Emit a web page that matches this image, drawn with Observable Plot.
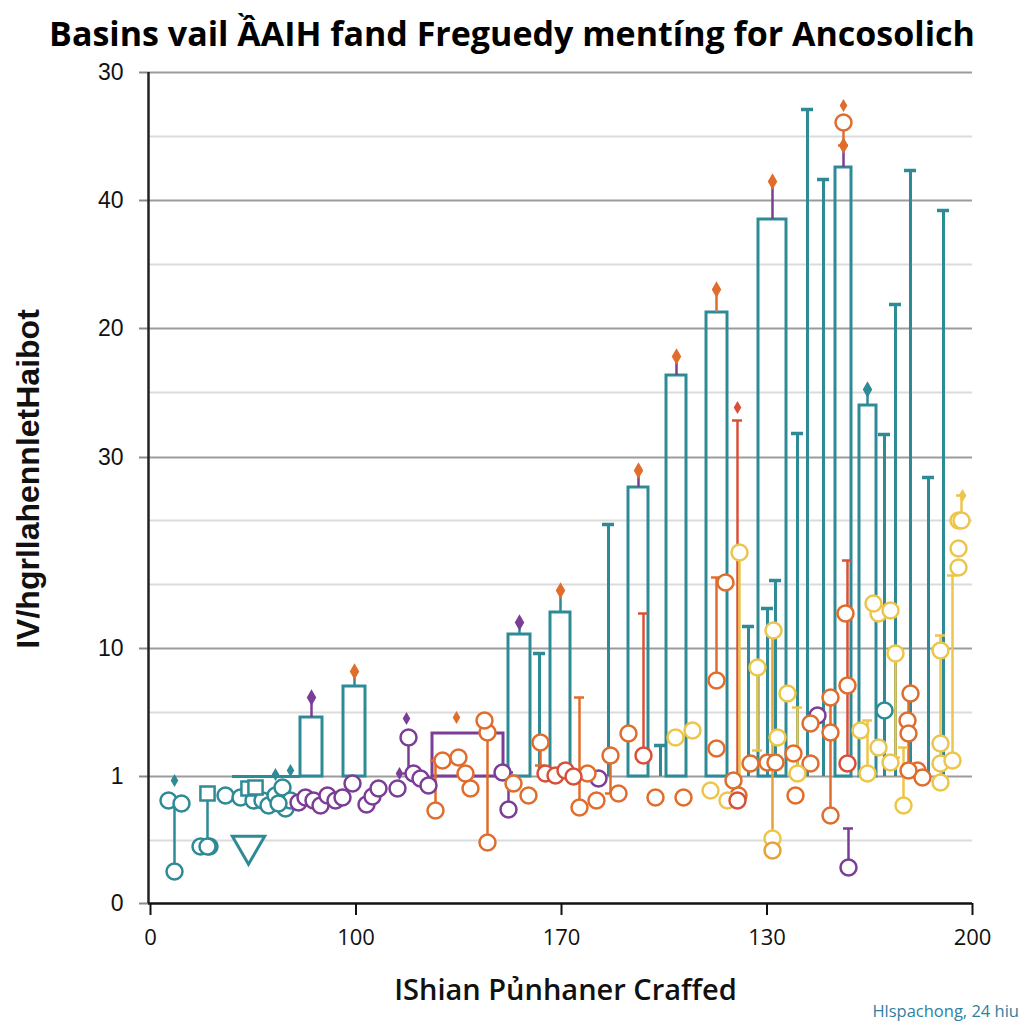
<!DOCTYPE html>
<html><head><meta charset="utf-8">
<script src="https://cdn.jsdelivr.net/npm/d3@7"></script>
<script src="https://cdn.jsdelivr.net/npm/@observablehq/plot@0.6"></script>
<style>
body{margin:0;background:#fff;width:1024px;height:1024px;overflow:hidden;font-family:"Open Sans",sans-serif}
#title{height:58px;box-sizing:border-box;padding-top:8px;line-height:50px;text-align:center;font-weight:700;font-size:34px;color:#000;white-space:nowrap}
#cap{height:26px;line-height:26px;text-align:right;padding-right:5px;font-size:16.5px;color:#2f7fa0}
</style></head><body>
<div id="title">Basins vail ẦAIH fand Freguedy mentíng for Ancosolich</div>
<div id="chart"></div>
<div id="cap">Hlspachong, 24 hiu</div>
<script>
const titleText = "Basins vail ẦAIH fand Freguedy mentíng for Ancosolich";
const yLabel = "IV/hgrllahennletHaibot";
const xLabel = "IShian Pủnhaner Craffed";
const caption = "Hlspachong, 24 hiu";

const xTickPos = [0, 20.55, 41.1, 61.65, 82.2];
const xTickLabels = ["0", "100", "170", "130", "200"];
const yTickPos = [-0.3, 12.4, 25.2, 44.3, 57.2, 70.0, 82.8];
const yTickLabels = ["0", "1", "10", "30", "20", "40", "30"];
const yMinor = [6.0, 18.8, 31.6, 38.0, 50.8, 63.6, 76.4];
const BASE = 12.4;

const col = {T: "#2e8b96", P: "#7a3e96", O: "#e06d2c", R: "#d8503a", Y: "#ecc64c", G: "#e3a23a"};

const tealBars = [
  {x1: 15.0, x2: 17.2, top: 18.3}, {x1: 19.3, x2: 21.5, top: 21.4},
  {x1: 35.8, x2: 38.0, top: 26.6}, {x1: 40.0, x2: 42.0, top: 28.8},
  {x1: 47.8, x2: 49.8, top: 41.3}, {x1: 51.6, x2: 53.6, top: 52.5},
  {x1: 55.6, x2: 57.7, top: 58.8}, {x1: 60.8, x2: 63.6, top: 68.1},
  {x1: 68.5, x2: 70.1, top: 73.3}, {x1: 70.9, x2: 72.6, top: 49.5}
];
const purpleBars = [{x1: 28.2, x2: 35.3, top: 16.7}];
const tealSteps = [{x1: 8.2, x2: 15.0, y: 12.4}];

const barTips = [
  {x: 16.1, from: 18.3, to: 20.3, stem: "P", dot: "P"},
  {x: 20.4, from: 21.4, to: 22.9, stem: "T", dot: "O"},
  {x: 36.9, from: 26.6, to: 27.8, stem: "T", dot: "P"},
  {x: 41.0, from: 28.8, to: 31.0, stem: "T", dot: "O"},
  {x: 48.8, from: 41.3, to: 43.0, stem: "P", dot: "O"},
  {x: 52.6, from: 52.5, to: 54.4, stem: "P", dot: "O"},
  {x: 56.6, from: 58.8, to: 61.1, stem: "O", dot: "O"},
  {x: 62.2, from: 68.1, to: 71.9, stem: "P", dot: "O"},
  {x: 69.3, from: 73.3, to: 75.5, stem: "P", dot: "O"},
  {x: 71.7, from: 49.5, to: 51.1, stem: "T", dot: "T"}
];

const tealRules = [
  {x: 45.8, top: 37.6}, {x: 38.9, top: 24.7}, {x: 64.7, top: 46.7}, {x: 65.7, top: 79.1},
  {x: 67.3, top: 72.1}, {x: 73.4, top: 46.6}, {x: 74.5, top: 59.6}, {x: 76.0, top: 73.0},
  {x: 77.8, top: 42.3}, {x: 79.3, top: 69.0}, {x: 59.8, top: 27.4}, {x: 61.7, top: 29.2},
  {x: 62.5, top: 32.0}, {x: 51.0, top: 15.5}
];

const lollipops = [
  {x: 2.4, y: 2.9, top: 10.0, c: "T"}, {x: 5.7, y: 5.4, top: 10.7, c: "T"},
  {x: 25.8, y: 16.3, top: 12.7, c: "P"}, {x: 35.8, y: 9.1, top: 12.8, c: "P"},
  {x: 69.8, y: 3.3, top: 7.2, c: "P"},
  {x: 28.5, y: 9.0, top: 14.0, c: "O"}, {x: 33.7, y: 5.8, top: 16.8, c: "O"},
  {x: 39.0, y: 15.8, top: 13.5, c: "O"}, {x: 42.9, y: 9.3, top: 20.3, c: "O"},
  {x: 46.0, y: 14.5, top: 10.7, c: "O"}, {x: 49.3, y: 14.5, top: 28.7, c: "R"},
  {x: 56.6, y: 22.0, top: 32.3, c: "O"}, {x: 58.7, y: 10.0, top: 48.0, c: "R"},
  {x: 68.0, y: 8.5, top: 20.3, c: "O"}, {x: 69.7, y: 13.7, top: 34.0, c: "R"},
  {x: 75.8, y: 13.0, top: 20.7, c: "O"}, {x: 69.3, y: 77.8, top: 75.5, c: "O"},
  {x: 58.9, y: 34.8, top: 11.0, c: "Y"}, {x: 60.7, y: 23.3, top: 15.0, c: "Y"},
  {x: 62.2, y: 5.0, top: 27.0, c: "G"}, {x: 64.7, y: 12.7, top: 19.3, c: "Y"},
  {x: 71.7, y: 12.7, top: 18.0, c: "Y"}, {x: 74.5, y: 24.7, top: 14.3, c: "Y"},
  {x: 75.3, y: 9.5, top: 15.3, c: "Y"}, {x: 79.0, y: 11.8, top: 26.5, c: "Y"},
  {x: 80.2, y: 14.0, top: 32.5, c: "Y"}, {x: 81.1, y: 38.0, top: 40.5, c: "Y"}
];

const circleX = [1.8,3.1,5.0,5.9,7.5,9.0,10.3,11.2,11.8,12.5,13.2,13.5,14.0,12.8,
  14.8,15.5,16.3,17.0,17.7,18.5,19.2,20.2,21.6,22.2,22.8,24.7,26.3,27.0,27.8,35.2,44.8,66.7,
  29.2,30.8,31.5,32.0,33.7,33.4,37.8,36.3,43.7,44.6,46.8,47.8,50.5,53.3,56.6,57.5,58.3,58.8,60.0,61.7,62.5,64.5,64.3,66.0,66.0,68.0,68.0,69.7,69.5,76.0,75.7,75.8,76.7,77.2,
  39.5,40.5,41.5,42.3,
  52.5,54.2,56.0,57.7,62.3,62.7,63.7,72.8,74.0,72.8,72.3,74.0,79.0,79.0,79.0,80.8,80.8,80.8,62.2,71.0,73.4,81.3,
  77.7];
const circleY = [10.0,9.7,5.4,5.4,10.5,10.3,10.0,10.0,9.5,10.5,11.3,9.2,10.0,9.7,
  9.8,10.3,10.0,9.5,10.5,10.0,10.3,11.7,9.6,10.4,11.2,11.2,12.7,12.2,11.5,12.8,12.2,18.5,
  14.0,14.3,12.7,11.2,16.8,18.0,10.5,11.7,12.7,10.0,10.7,16.7,10.3,10.3,15.2,31.8,12.0,10.5,13.7,13.8,13.8,10.5,14.7,13.7,17.7,16.8,20.3,21.5,28.7,20.7,18.0,16.7,13.0,12.3,
  12.7,12.5,13.0,12.4,
  16.3,17.0,11.0,10.0,27.0,16.3,20.7,15.3,13.8,28.7,29.7,29.0,25.0,15.7,13.7,38.0,35.2,33.3,6.2,17.0,19.0,37.0,
  15.3];
const circleC = [..."TTTTTTTTTTTTTT", ..."PPPPPPPPPPPPPPPPPP",
  ..."OOOOOOOOOOOOOOOOOOOOOOOOOOOOOOOOOO", ..."RRRR", ..."YYYYYYYYYYYYYYYYYYYY", "T"];
const circles = circleX.map((x, i) => ({x, y: circleY[i], c: circleC[i]}));

const squares = [{x: 9.8, y: 11.2}, {x: 10.5, y: 11.3}, {x: 5.7, y: 10.7}];
const triangles = [{x: 9.8, y: 5.5}];
const tinyDots = [
  {x: 2.4, y: 12.0, c: "T"}, {x: 25.6, y: 18.2, c: "P"}, {x: 30.6, y: 18.3, c: "O"},
  {x: 58.7, y: 49.3, c: "R"}, {x: 69.3, y: 79.5, c: "O"}, {x: 81.2, y: 40.5, c: "Y"},
  {x: 12.5, y: 12.6, c: "T"}, {x: 14.0, y: 13.0, c: "T"}, {x: 24.9, y: 12.7, c: "P"}
];

const ylabMap = new Map(yTickPos.map((p, i) => [p, yTickLabels[i]]));
const xlabMap = new Map(xTickPos.map((p, i) => [p, xTickLabels[i]]));
const C = d => col[d.c];

const chart = Plot.plot({
  width: 1024, height: 940,
  marginTop: 14, marginBottom: 95, marginLeft: 148, marginRight: 52,
  x: {domain: [-0.2, 82.2]},
  y: {domain: [-0.3, 82.8]},
  color: {type: "identity"},
  style: {background: "white", overflow: "visible"},
  marks: [
    Plot.ruleY(yMinor, {stroke: "#dcdcdc", strokeWidth: 2}),
    Plot.ruleY(yTickPos.slice(1), {stroke: "#9c9c9c", strokeWidth: 2}),
    Plot.axisY({ticks: yTickPos, tickFormat: d => ylabMap.get(d), tickSize: 9, tickPadding: 16,
      fontSize: 23, fontFamily: "Liberation Sans", stroke: "#8a8a8a", strokeWidth: 2, fill: "#111", label: null}),
    Plot.axisX({ticks: xTickPos, tickFormat: d => xlabMap.get(d), tickSize: 12, tickPadding: 14,
      fontSize: 22, fontFamily: "Open Sans", stroke: "#111", strokeWidth: 2, fill: "#111", label: null}),
    Plot.ruleY([-0.3], {stroke: "#111", strokeWidth: 2.5}),
    Plot.ruleX([-0.2], {stroke: "#222", strokeWidth: 2.5}),
    // teal structures
    Plot.ruleX(tealRules, {x: "x", y1: () => BASE, y2: "top", stroke: col.T, strokeWidth: 3}),
    Plot.ruleY(tealRules, {y: "top", x1: d => d.x - 0.6, x2: d => d.x + 0.6, stroke: col.T, strokeWidth: 3.5}),
    Plot.rect(tealBars, {x1: "x1", x2: "x2", y1: () => BASE, y2: "top", fill: "none", stroke: col.T, strokeWidth: 3}),
    Plot.rect(purpleBars, {x1: "x1", x2: "x2", y1: () => BASE, y2: "top", fill: "none", stroke: col.P, strokeWidth: 3}),
    Plot.ruleY(tealSteps, {y: "y", x1: "x1", x2: "x2", stroke: col.T, strokeWidth: 3}),
    Plot.ruleX(barTips, {x: "x", y1: "from", y2: "to", stroke: d => col[d.stem], strokeWidth: 2.5}),
    Plot.dot(barTips, {x: "x", y: "to", symbol: "diamond", r: 5, fill: d => col[d.dot]}),
    // lollipops
    Plot.ruleX(lollipops, {x: "x", y1: "y", y2: "top", stroke: C, strokeWidth: 2.5}),
    Plot.ruleY(lollipops, {y: "top", x1: d => d.x - 0.5, x2: d => d.x + 0.5, stroke: C, strokeWidth: 2.5}),
    Plot.dot(circles, {x: "x", y: "y", r: 8, stroke: C, fill: "white", strokeWidth: 2.5}),
    Plot.dot(lollipops, {x: "x", y: "y", r: 8, stroke: C, fill: "white", strokeWidth: 2.5}),
    Plot.dot(squares, {x: "x", y: "y", symbol: "square", r: 8, stroke: col.T, fill: "white", strokeWidth: 2.5}),
    Plot.dot(triangles, {x: "x", y: "y", symbol: "triangle", rotate: 180, r: 12, stroke: col.T, fill: "white", strokeWidth: 3}),
    Plot.dot(tinyDots, {x: "x", y: "y", symbol: "diamond", r: 4, fill: C}),
    // labels
    Plot.text([yLabel], {frameAnchor: "left", textAnchor: "middle", lineAnchor: "middle", rotate: -90,
      dx: -120, dy: -9, fontSize: 32, fontWeight: 700, fontFamily: "Liberation Sans", fill: "#111",
      letterSpacing: "1.5px"}),
    Plot.text([xLabel], {frameAnchor: "bottom", textAnchor: "middle", lineAnchor: "middle", dx: 5, dy: 87,
      fontSize: 29, fontWeight: 600, fontFamily: "Open Sans", fill: "#111"})
  ]
});
document.getElementById("chart").appendChild(chart);
</script>
</body></html>
